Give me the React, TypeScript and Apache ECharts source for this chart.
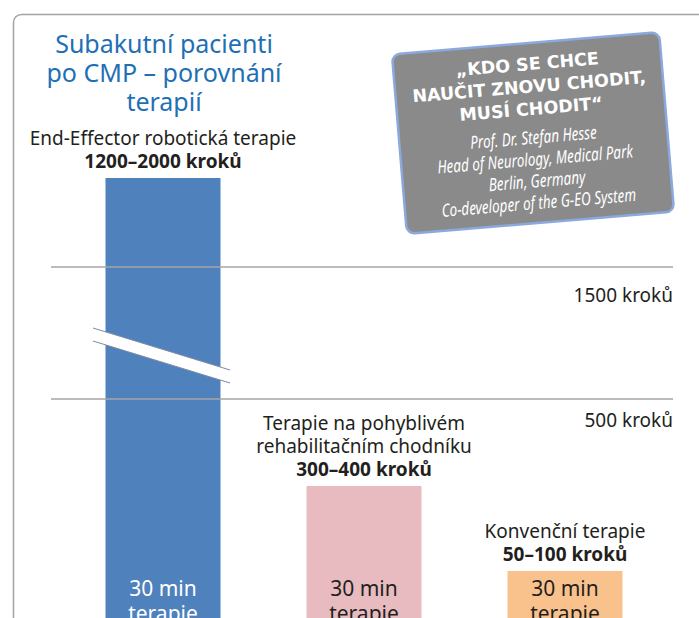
import React, { useEffect, useRef } from "react";
import * as echarts from "echarts";

const categories = [
  "End-Effector robotická terapie",
  "Terapie na pohyblivém\nrehabilitačním chodníku",
  "Konvenční terapie",
];
const stepRanges = ["1200–2000 kroků", "300–400 kroků", "50–100 kroků"];
// schematic bar heights (chart units, broken scale as in the picture)
const barHeights = [462, 154, 69];
const barColors = ["#4f81bd", "#e8bbc0", "#f9c28d"];
const insideTextColors = ["#ffffff", "#231f20", "#231f20"];
const durationLabel = "30 min\nterapie";
const refLevels = [373, 241];
const refLabels = ["1500 kroků", "500 kroků"];
const titleLines = ["Subakutní pacienti", "po CMP – porovnání", "terapií"];
const quoteLines = ["„KDO SE CHCE", "NAUČIT ZNOVU CHODIT,", "MUSÍ CHODIT“"];
const authorLines = [
  "Prof. Dr. Stefan Hesse",
  "Head of Neurology, Medical Park",
  "Berlin, Germany",
  "Co-developer of the G-EO System",
];

export default function App() {
  const ref = useRef<HTMLDivElement>(null);
  useEffect(() => {
    const el = ref.current!;
    const chart = echarts.init(el, null, { renderer: "svg" });
    const font = '"Noto Sans", sans-serif';
    const dark = "#231f20";
    const option: any = {
      animation: false,
      backgroundColor: "#ffffff",
      grid: [
        { left: 62.5, right: 33.5, top: 140, bottom: -22, outerBoundsMode: "none", containLabel: false },
        { left: 51, right: 26, top: 140, bottom: -22, outerBoundsMode: "none", containLabel: false },
      ],
      xAxis: [
        { type: "category", gridIndex: 0, data: categories, show: false },
        { type: "category", gridIndex: 1, data: ["ref"], show: false },
      ],
      yAxis: [
        { type: "value", gridIndex: 0, min: 0, max: 500, show: false },
        { type: "value", gridIndex: 1, min: 0, max: 500, show: false },
      ],
      series: [
        {
          type: "line",
          xAxisIndex: 1,
          yAxisIndex: 1,
          data: ["-"],
          symbol: "none",
          silent: true,
          z: 1,
          markLine: {
            silent: true,
            symbol: "none",
            lineStyle: { color: "#a6a6a6", width: 1.5, type: "solid" },
            label: {
              position: "insideEndBottom",
              formatter: "{b}",
              color: dark,
              fontSize: 19,
              fontFamily: font,
            },
            data: refLevels.map((v, i) => ({
              yAxis: v,
              name: refLabels[i],
              label: { distance: i === 0 ? [0, 18] : [0, 11] },
            })),
          },
        },
        {
          type: "bar",
          xAxisIndex: 0,
          yAxisIndex: 0,
          barWidth: 115,
          z: 3,
          data: barHeights.map((v, i) => ({
            value: v,
            itemStyle: { color: barColors[i] },
            label: { color: insideTextColors[i] },
          })),
          label: {
            show: true,
            position: "insideBottom",
            distance: 15,
            formatter: durationLabel,
            fontSize: 21,
            lineHeight: 25,
            fontFamily: font,
          },
        },
        {
          type: "bar",
          xAxisIndex: 0,
          yAxisIndex: 0,
          barWidth: 115,
          barGap: "-100%",
          z: 4,
          itemStyle: { color: "rgba(0,0,0,0)" },
          data: barHeights,
          label: {
            show: true,
            position: "top",
            distance: 6,
            formatter: (p: any) => {
              const lines = categories[p.dataIndex].split("\n").map((l) => `{n|${l}}`);
              return [...lines, `{b|${stepRanges[p.dataIndex]}}`].join("\n");
            },
            rich: {
              n: { fontSize: 19, lineHeight: 23, color: dark, fontFamily: font },
              b: { fontSize: 19, lineHeight: 23, color: dark, fontFamily: font, fontWeight: "bold" },
            },
          },
        },
      ],
      graphic: [
        {
          type: "rect",
          z: 0,
          shape: { x: 13.5, y: 14.5, width: 800, height: 800, r: 8 },
          style: { fill: "none", stroke: "#a3a3a3", lineWidth: 1.5 },
        },
        ...titleLines.map((t, i) => ({
          type: "text",
          z: 100,
          x: 164,
          y: 43 + i * 29,
          style: {
            text: t,
            fill: "#1f6fb6",
            font: `25px ${font}`,
            textAlign: "center",
            textVerticalAlign: "middle",
          },
        })),
        {
          type: "polygon",
          z: 100,
          shape: { points: [[93, 328], [230, 370], [230, 383], [93, 341]] },
          style: { fill: "#ffffff" },
        },
        {
          type: "line",
          z: 101,
          shape: { x1: 93, y1: 328, x2: 230, y2: 370 },
          style: { stroke: "#7c8ba3", lineWidth: 1 },
        },
        {
          type: "line",
          z: 101,
          shape: { x1: 93, y1: 341, x2: 230, y2: 383 },
          style: { stroke: "#7c8ba3", lineWidth: 1 },
        },
        {
          type: "group",
          z: 100,
          x: 533,
          y: 133,
          rotation: 0.083,
          children: [
            {
              type: "rect",
              shape: { x: -134, y: -90, width: 268, height: 180, r: 8 },
              style: { fill: "#8a8a8a", stroke: "#8aaade", lineWidth: 2.5 },
            },
            ...quoteLines.map((t, i) => ({
              type: "text",
              x: 0,
              y: -69 + i * 22.5,
              style: {
                text: t,
                fill: "#ffffff",
                font: `bold 17.5px "DejaVu Sans", sans-serif`,
                textAlign: "center",
                textVerticalAlign: "middle",
              },
            })),
            ...authorLines.map((t, i) => ({
              type: "text",
              x: 0,
              y: 4 + i * 21.8,
              scaleX: 0.75,
              style: {
                text: t,
                fill: "#ffffff",
                font: `italic 18px ${font}`,
                textAlign: "center",
                textVerticalAlign: "middle",
              },
            })),
          ],
        },
      ],
    };
    chart.setOption(option);
    return () => chart.dispose();
  }, []);
  return (
    <div
      ref={ref}
      style={{ position: "absolute", left: 0, top: 0, width: 699, height: 618, background: "#fff" }}
    />
  );
}
